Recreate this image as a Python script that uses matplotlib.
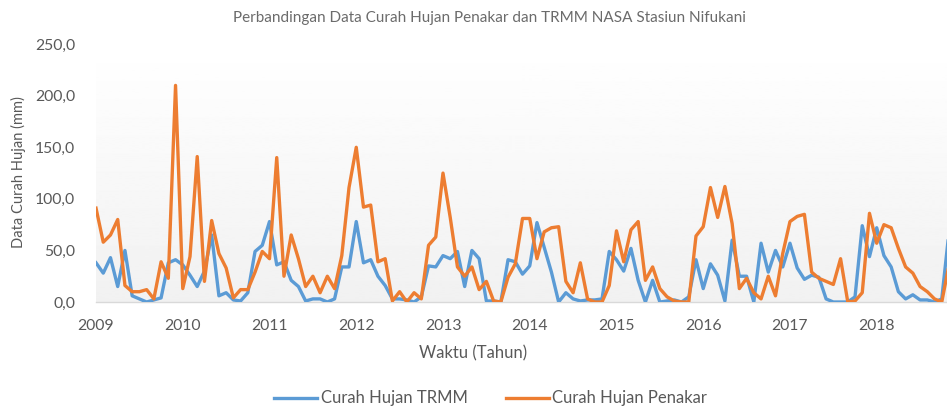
import numpy as np
import matplotlib
matplotlib.use("Agg")
import matplotlib.pyplot as plt
from matplotlib.ticker import FuncFormatter

plt.rcParams['font.family'] = ['Lato', 'DejaVu Sans']

years = ['2009', '2010', '2011', '2012', '2013', '2014', '2015', '2016', '2017', '2018']

# curah hujan TRMM (mm), bulanan
trmm = [38, 28, 43, 15, 50, 6, 3, 0, 2, 4, 38, 41,
        36, 26, 15, 30, 65, 6, 9, 2, 1, 9, 49, 55,
        78, 36, 39, 21, 15, 1, 3, 3, 0, 3, 34, 34,
        78, 38, 41, 25, 16, 3, 3, 2, 0, 5, 35, 34,
        45, 42, 49, 15, 50, 42, 1, 1, 0, 41, 39, 27,
        35, 77, 53, 29, 0, 9, 3, 1, 2, 2, 3, 49,
        41, 30, 52, 21, 0, 21, 0, 1, 2, 0, 5, 41,
        13, 37, 26, 1, 60, 25, 25, 0, 57, 29, 50, 34,
        57, 33, 22, 26, 24, 3, 0, 0, 0, 5, 74, 44,
        72, 45, 34, 10, 3, 7, 2, 2, 0, 3, 68]

# curah hujan penakar (mm), bulanan
penakar = [91, 58, 65, 80, 16, 10, 10, 12, 3, 39, 23, 210,
           13, 44, 141, 20, 79, 47, 33, 4, 12, 12, 29, 49,
           42, 140, 25, 65, 42, 15, 25, 9, 25, 13, 45, 111,
           150, 92, 94, 39, 42, 1, 10, 0, 9, 3, 55, 63,
           125, 82, 34, 25, 34, 12, 20, 1, 0, 24, 37, 81,
           81, 42, 68, 72, 73, 20, 9, 38, 3, 0, 0, 16,
           69, 39, 70, 78, 21, 34, 13, 5, 1, 0, 0, 64,
           73, 111, 82, 112, 76, 13, 23, 9, 3, 25, 6, 47,
           78, 83, 85, 29, 23, 20, 17, 42, 0, 1, 9, 86,
           57, 75, 72, 52, 34, 28, 15, 10, 3, 0, 36]

x = np.arange(len(trmm))
txt = '#595959'

fig = plt.figure(figsize=(9.47, 4.09), dpi=100)
ax = fig.add_axes([0.1014, 0.2616, 0.9007, 0.6304])

# latar gradasi
grad = np.linspace(1.0, 0.945, 256).reshape(-1, 1)
ax.imshow(grad, cmap='gray', vmin=0, vmax=1, aspect='auto',
          extent=[0, 1, 0, 1], transform=ax.transAxes, zorder=0)

ax.plot(x, trmm, color='#5B9BD5', lw=2.4, label='Curah Hujan TRMM', zorder=3,
        solid_joinstyle='round')
ax.plot(x, penakar, color='#ED7D31', lw=2.4, label='Curah Hujan Penakar', zorder=4,
        solid_joinstyle='round')

ax.set_xlim(0, 118)
ax.set_ylim(0, 250)
ax.set_yticks(np.arange(0, 251, 50))
ax.yaxis.set_major_formatter(FuncFormatter(lambda v, p: f'{v:.1f}'.replace('.', ',')))
ax.set_xticks(np.arange(0, 120, 12))
ax.set_xticklabels(years)
ax.tick_params(length=0, labelsize=11.3, colors=txt)
ax.tick_params(axis='x', pad=12)
ax.tick_params(axis='y', pad=15)

for s in ['top', 'right', 'left']:
    ax.spines[s].set_visible(False)
ax.spines['bottom'].set_color('#d9d9d9')
ax.spines['bottom'].set_linewidth(1.0)

fig.text(0.517, 0.955, 'Perbandingan Data Curah Hujan Penakar dan TRMM NASA Stasiun Nifukani',
         ha='center', va='center', fontsize=11, color='#6b6b6b')
fig.text(0.5, 0.137, 'Waktu (Tahun)', ha='center', va='center', fontsize=12, color=txt)
fig.text(0.019, 0.58, 'Data Curah Hujan (mm)', ha='center', va='center', rotation=90,
         fontsize=10.5, color=txt)

fig.legend(loc='center', bbox_to_anchor=(0.518, 0.026), ncol=2, frameon=False,
           fontsize=12, labelcolor=txt, handlelength=2.6, handletextpad=0.2,
           columnspacing=2.3, borderpad=0.1)

fig.savefig('out.png', dpi=100)
